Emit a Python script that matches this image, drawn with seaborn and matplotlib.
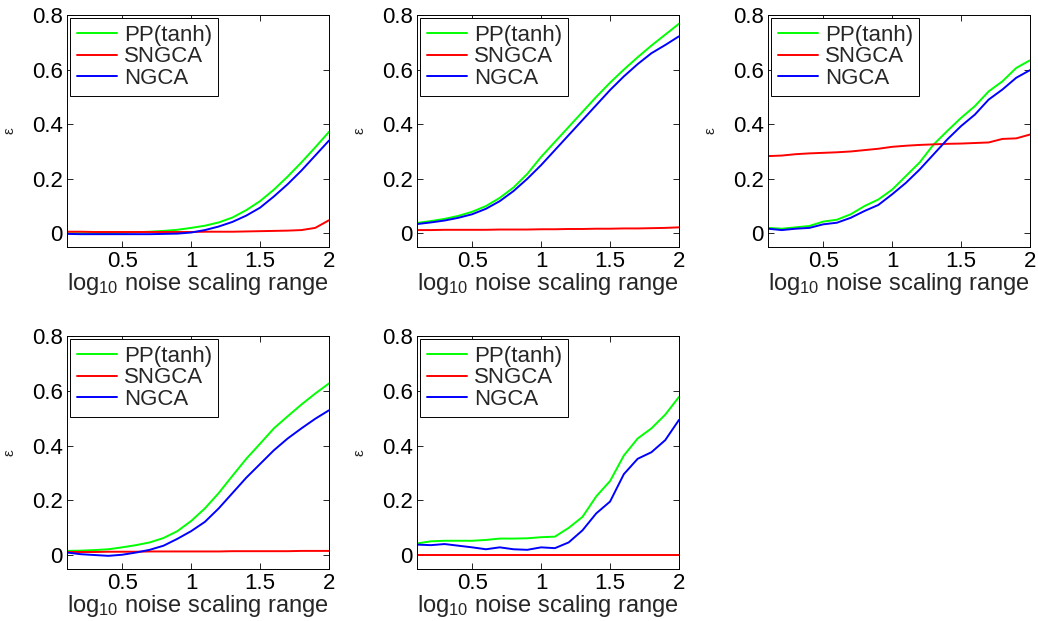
import numpy as np
import pandas as pd
import matplotlib
matplotlib.use("Agg")
import matplotlib.pyplot as plt
import seaborn as sns

# ---------------- data ----------------
x = [0.1, 0.2, 0.3, 0.4, 0.5, 0.6, 0.7, 0.8, 0.9, 1.0,
     1.1, 1.2, 1.3, 1.4, 1.5, 1.6, 1.7, 1.8, 1.9, 2.0]

series_names = ["PP(tanh)", "SNGCA", "NGCA"]

p1_pp = [0.0, 0.0, 0.0, 0.001, 0.002, 0.004, 0.006, 0.009, 0.013, 0.02,
         0.028, 0.04, 0.058, 0.085, 0.118, 0.16, 0.208, 0.26, 0.315, 0.372]
p1_sn = [0.006, 0.006, 0.005, 0.005, 0.005, 0.005, 0.005, 0.005, 0.005, 0.005,
         0.006, 0.006, 0.006, 0.007, 0.008, 0.009, 0.01, 0.012, 0.02, 0.048]
p1_ng = [-0.002, -0.003, -0.003, -0.003, -0.003, -0.003, -0.003, -0.002, -0.001, 0.003,
         0.012, 0.025, 0.042, 0.065, 0.094, 0.135, 0.18, 0.23, 0.285, 0.34]

p2_pp = [0.038, 0.045, 0.053, 0.064, 0.079, 0.1, 0.13, 0.168, 0.218, 0.28,
         0.335, 0.39, 0.445, 0.5, 0.552, 0.6, 0.645, 0.688, 0.728, 0.768]
p2_sn = [0.012, 0.012, 0.013, 0.013, 0.013, 0.013, 0.014, 0.014, 0.014, 0.015,
         0.015, 0.016, 0.016, 0.017, 0.017, 0.018, 0.018, 0.019, 0.02, 0.022]
p2_ng = [0.034, 0.04, 0.047, 0.057, 0.07, 0.09, 0.118, 0.155, 0.2, 0.25,
         0.305, 0.36, 0.415, 0.47, 0.525, 0.575, 0.62, 0.66, 0.69, 0.722]

p3_pp = [0.02, 0.017, 0.022, 0.027, 0.043, 0.05, 0.07, 0.1, 0.124, 0.16,
         0.21, 0.26, 0.325, 0.375, 0.423, 0.466, 0.52, 0.557, 0.606, 0.634]
p3_sn = [0.283, 0.285, 0.29, 0.293, 0.295, 0.297, 0.3, 0.305, 0.31, 0.317,
         0.321, 0.324, 0.326, 0.328, 0.329, 0.331, 0.333, 0.346, 0.348, 0.362]
p3_ng = [0.017, 0.012, 0.017, 0.02, 0.033, 0.039, 0.057, 0.082, 0.104, 0.143,
         0.185, 0.234, 0.289, 0.344, 0.393, 0.435, 0.49, 0.527, 0.57, 0.598]

p4_pp = [0.016, 0.017, 0.019, 0.022, 0.029, 0.037, 0.047, 0.063, 0.088, 0.125,
         0.171, 0.227, 0.29, 0.352, 0.407, 0.463, 0.507, 0.55, 0.59, 0.627]
p4_sn = [0.012, 0.012, 0.012, 0.013, 0.013, 0.013, 0.014, 0.014, 0.014, 0.014,
         0.014, 0.014, 0.015, 0.015, 0.015, 0.015, 0.015, 0.016, 0.016, 0.016]
p4_ng = [0.01, 0.004, 0.001, -0.002, 0.002, 0.01, 0.02, 0.035, 0.06, 0.088,
         0.122, 0.171, 0.227, 0.283, 0.333, 0.383, 0.426, 0.463, 0.498, 0.529]

p5_pp = [0.043, 0.051, 0.053, 0.053, 0.053, 0.056, 0.061, 0.061, 0.062, 0.066,
         0.068, 0.1, 0.14, 0.215, 0.271, 0.364, 0.426, 0.463, 0.513, 0.578]
p5_sn = [0.0, 0.0, 0.0, 0.0, 0.0, 0.0, 0.0, 0.0, 0.0, 0.0,
         0.0, 0.0, 0.0, 0.0, 0.0, 0.0, 0.0, 0.0, 0.0, 0.0]
p5_ng = [0.039, 0.037, 0.041, 0.035, 0.029, 0.022, 0.029, 0.022, 0.02, 0.029,
         0.026, 0.047, 0.091, 0.153, 0.196, 0.296, 0.352, 0.376, 0.42, 0.494]

panels = [(p1_pp, p1_sn, p1_ng), (p2_pp, p2_sn, p2_ng), (p3_pp, p3_sn, p3_ng),
          (p4_pp, p4_sn, p4_ng), (p5_pp, p5_sn, p5_ng)]

xticks = [0.5, 1, 1.5, 2]
xticklabels = ["0.5", "1", "1.5", "2"]
yticks = [0, 0.2, 0.4, 0.6, 0.8]
yticklabels = ["0", "0.2", "0.4", "0.6", "0.8"]

# ---------------- style ----------------
sns.set_theme(style="white")
plt.rcParams["font.family"] = ["Liberation Sans", "DejaVu Sans"]
plt.rcParams["mathtext.fontset"] = "custom"
plt.rcParams["mathtext.rm"] = "Liberation Sans"
plt.rcParams["mathtext.it"] = "Liberation Sans"
plt.rcParams["mathtext.default"] = "regular"

palette = {"PP(tanh)": "#00ff00", "SNGCA": "#ff0000", "NGCA": "#0000ff"}

W, H = 1038, 621
fig = plt.figure(figsize=(W / 100, H / 100), dpi=100)

lefts = [67, 417, 768]
width = 262
rows = [(15, 247), (336, 569)]

positions = [(lefts[0], rows[0]), (lefts[1], rows[0]), (lefts[2], rows[0]),
             (lefts[0], rows[1]), (lefts[1], rows[1])]

fs = 16
for (pp, sn, ng), (lx, (top, bot)) in zip(panels, positions):
    ax = fig.add_axes([lx / W, 1 - bot / H, width / W, (bot - top) / H])
    df = pd.DataFrame({
        "x": x * 3,
        "y": pp + sn + ng,
        "method": [series_names[0]] * len(x) + [series_names[1]] * len(x) + [series_names[2]] * len(x),
    })
    sns.lineplot(data=df, x="x", y="y", hue="method", hue_order=series_names,
                 palette=palette, linewidth=1.4, ax=ax, legend=True)
    ax.set_xlim(0.1, 2)
    ax.set_ylim(-0.05, 0.8)
    ax.set_xticks(xticks)
    ax.set_xticklabels(xticklabels, fontsize=fs)
    ax.set_yticks(yticks)
    ax.set_yticklabels(yticklabels, fontsize=fs)
    ax.tick_params(direction="in", length=4, width=0.6, top=True, right=True,
                   bottom=True, left=True, pad=3, colors="black")
    for s in ax.spines.values():
        s.set_color("black")
        s.set_linewidth(0.7)
        s.set_visible(True)
    ax.set_xlabel(r"log$_{10}$ noise scaling range", fontsize=17, labelpad=-1)
    ax.set_ylabel("ε", fontsize=11, labelpad=11)
    h, l = ax.get_legend_handles_labels()
    leg = ax.legend(h, l, loc="upper left", fontsize=fs, frameon=True, fancybox=False,
                    edgecolor="black", framealpha=1, borderpad=0.3, labelspacing=0.02,
                    handlelength=1.8, handletextpad=0.3, borderaxespad=0.15)
    leg.get_frame().set_linewidth(0.7)

fig.savefig("out.png", dpi=100)
